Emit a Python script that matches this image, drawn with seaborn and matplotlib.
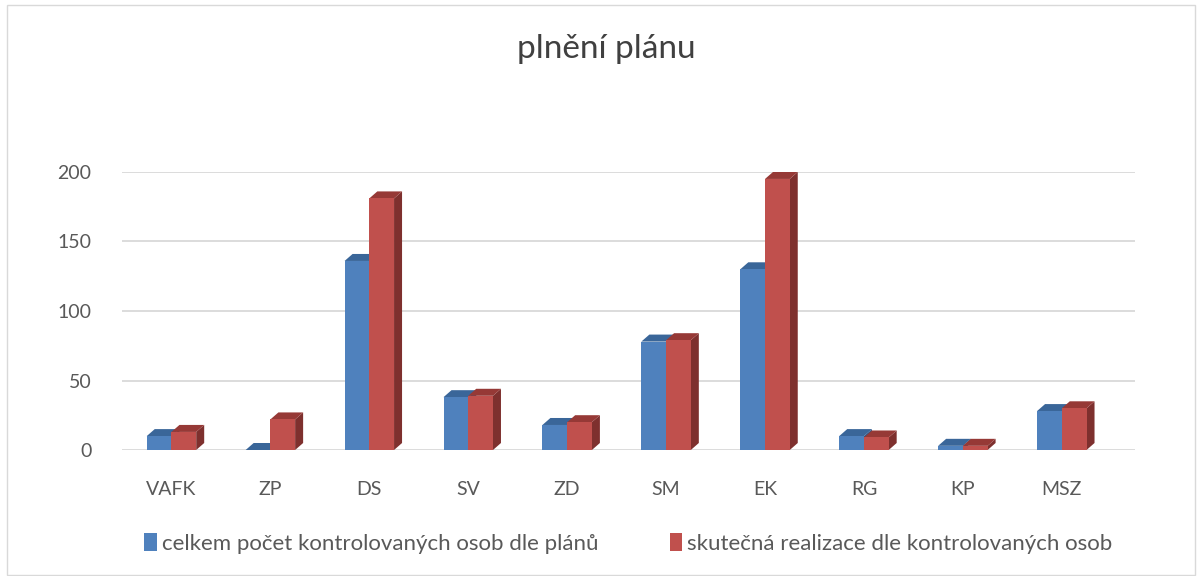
import pandas as pd
import matplotlib.pyplot as plt
import seaborn as sns
from matplotlib.patches import Polygon, Rectangle

# data
categories = ['VAFK', 'ZP', 'DS', 'SV', 'ZD', 'SM', 'EK', 'RG', 'KP', 'MSZ']
plan = [10, 0, 136, 38, 18, 78, 130, 10, 3, 28]
real = [13, 22, 181, 39, 20, 79, 195, 9, 3, 30]
series = ['celkem počet kontrolovaných osob dle plánů',
          'skutečná realizace dle kontrolovaných osob']

front = {series[0]: '#4F81BD', series[1]: '#C0504D'}
side = {series[0]: '#2F5584', series[1]: '#7E302E'}
top = {series[0]: '#3A6699', series[1]: '#963936'}

df = pd.DataFrame({
    'kat': categories * 2,
    'hodnota': plan + real,
    'serie': [series[0]] * len(categories) + [series[1]] * len(categories),
})

sns.set_theme(style='white')
plt.rcParams['font.family'] = ['Lato', 'DejaVu Sans']

fig = plt.figure(figsize=(12, 5.76), dpi=100)
ax = fig.add_axes([122 / 1200, (576 - 450) / 576, (1135 - 122) / 1200, 278 / 576])

sns.barplot(data=df, x='kat', y='hodnota', hue='serie', palette=front,
            width=0.5, ax=ax, saturation=1, legend=True, linewidth=0)

ax.set_xlim(-0.5, 9.74)
ax.set_ylim(0, 200)
ax.set_yticks([0, 50, 100, 150, 200])

# fake 3D depth for each bar (side + top face)
px_x = ax.get_position().width * 1200 / (9.74 + 0.5)
px_y = ax.get_position().height * 576 / 200
dx = 8 / px_x
dy = 7 / px_y
for i, s in enumerate(series):
    cont = ax.containers[i]
    for bar in cont:
        x0 = bar.get_x()
        w = bar.get_width()
        h = bar.get_height()
        ax.add_patch(Polygon([(x0 + w, 0), (x0 + w + dx, dy), (x0 + w + dx, h + dy), (x0 + w, h)],
                             closed=True, facecolor=side[s], edgecolor='none', zorder=1.5 + i))
        ax.add_patch(Polygon([(x0, h), (x0 + dx, h + dy), (x0 + w + dx, h + dy), (x0 + w, h)],
                             closed=True, facecolor=top[s], edgecolor='none', zorder=1.5 + i))
    for bar in cont:
        bar.set_zorder(2 + i)

ax.grid(axis='y', color='#D9D9D9', linewidth=1.3)
ax.set_axisbelow(True)
for sp in ax.spines.values():
    sp.set_visible(False)
ax.set_xlabel('')
ax.set_ylabel('')
ax.tick_params(axis='both', length=0, labelsize=14, colors='#595959')
ax.tick_params(axis='x', pad=22)
ax.tick_params(axis='y', pad=22)

fig.text(0.505, 0.915, 'plnění plánu', ha='center', va='center', fontsize=24, color='#404040')

handles, labels = ax.get_legend_handles_labels()
ax.legend(handles, labels, loc='center', bbox_to_anchor=(0.5, -0.335), ncol=2, frameon=False,
          fontsize=16, handlelength=0.55, handleheight=0.9, handletextpad=0.25,
          columnspacing=3.2, labelcolor='#595959')

fig.add_artist(Rectangle((7 / 1200, 1 / 576), 1188 / 1200, 570 / 576, transform=fig.transFigure,
                         fill=False, edgecolor='#D9D9D9', linewidth=1))

fig.savefig('out.png', dpi=100)
